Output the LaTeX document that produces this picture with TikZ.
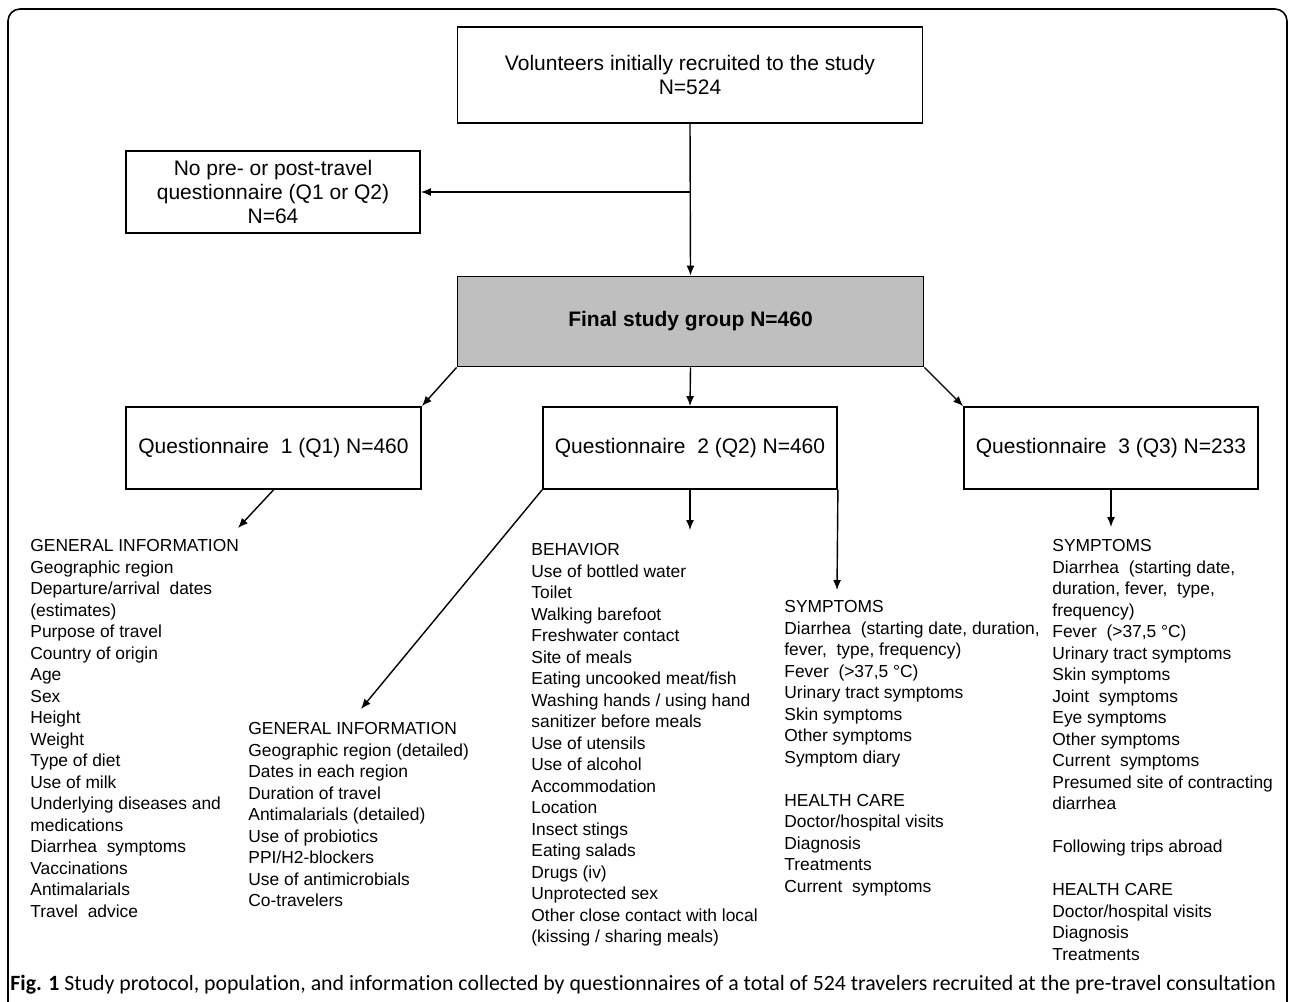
\documentclass[tikz,border=0pt]{standalone}
\usepackage{fontspec}
\setmainfont{Liberation Sans}
\newfontfamily\capfont[Ligatures=NoCommon]{Carlito}
\usetikzlibrary{arrows.meta}
\definecolor{finalgray}{RGB}{191,191,191}
\newcommand{\boxfont}{\fontsize{10.5}{12}\selectfont}
\newcommand{\listfont}{\fontsize{8.7}{10.75}\selectfont}
\tikzset{
  box/.style={draw, line width=0.9pt, inner sep=0pt, align=center, font=\boxfont,
    minimum width=147pt, minimum height=41pt},
  arr/.style={-{Latex[length=5pt,width=4pt]}, line width=0.7pt},
  itemlist/.style={anchor=north west, align=left, inner sep=0pt, font=\listfont},
}
\begin{document}
\begin{tikzpicture}[x=0.5pt,y=-0.5pt]
  \useasboundingbox (0,0) rectangle (1290,1001);
  % outer frame, open at the bottom
  \draw[line width=0.8pt, rounded corners=6pt] (8,1010) -- (8,9) -- (1287,9) -- (1287,1010);
  % boxes
  \node[box, minimum width=232.5pt, minimum height=48pt] (vol) at (690,75)
    {Volunteers initially recruited to the study\\N=524};
  \node[box] (nopre) at (273,192) {No pre- or post-travel\\questionnaire (Q1 or Q2)\\N=64};
  \node[box, fill=finalgray, minimum width=233pt, minimum height=45pt, font=\boxfont\bfseries]
    (final) at (690.5,321.5) {Final study group N=460};
  \node[box, minimum width=147.5pt] (q1) at (273.5,448) {Questionnaire\ \ 1 (Q1) N=460};
  \node[box] (q2) at (690,448) {Questionnaire\ \ 2 (Q2) N=460};
  \node[box] (q3) at (1111,448) {Questionnaire\ \ 3 (Q3) N=233};
  % lists
  \node[itemlist] (gen1) at (30,539) {GENERAL INFORMATION\\Geographic region\\Departure/arrival\ \ dates\\(estimates)\\Purpose of travel\\Country of origin\\Age\\Sex\\Height\\Weight\\Type of diet\\Use of milk\\Underlying diseases and\\medications\\Diarrhea\ \ symptoms\\Vaccinations\\Antimalarials\\Travel\ \ advice};
  \node[itemlist] (gen2) at (248,722) {GENERAL INFORMATION\\Geographic region (detailed)\\Dates in each region\\Duration of travel\\Antimalarials (detailed)\\Use of probiotics\\PPI/H2-blockers\\Use of antimicrobials\\Co-travelers};
  \node[itemlist] (behav) at (531,543) {BEHAVIOR\\Use of bottled water\\Toilet\\Walking barefoot\\Freshwater contact\\Site of meals\\Eating uncooked meat/fish\\Washing hands / using hand\\sanitizer before meals\\Use of utensils\\Use of alcohol\\Accommodation\\Location\\Insect stings\\Eating salads\\Drugs (iv)\\Unprotected sex\\Other close contact with local\\(kissing / sharing meals)};
  \node[itemlist] (symp2) at (784,600) {SYMPTOMS\\Diarrhea\ \ (starting date, duration,\\fever,\ \ type, frequency)\\Fever\ \ (>37,5 °C)\\Urinary tract symptoms\\Skin symptoms\\Other symptoms\\Symptom diary\\[10.75pt]HEALTH CARE\\Doctor/hospital visits\\Diagnosis\\Treatments\\Current\ \ symptoms};
  \node[itemlist] (symp3) at (1052,539) {SYMPTOMS\\Diarrhea\ \ (starting date,\\duration, fever,\ \ type,\\frequency)\\Fever\ \ (>37,5 °C)\\Urinary tract symptoms\\Skin symptoms\\Joint\ \ symptoms\\Eye symptoms\\Other symptoms\\Current\ \ symptoms\\Presumed site of contracting\\diarrhea\\[10.75pt]Following trips abroad\\[10.75pt]HEALTH CARE\\Doctor/hospital visits\\Diagnosis\\Treatments};
  % free arrow ends
  \coordinate (g1tip) at (238,528);
  \coordinate (g2tip) at (361,709);
  \coordinate (btip) at (690,530);
  \coordinate (s2tip) at (837,590);
  \coordinate (s3tip) at (1111,527);
  % connectors
  \draw[arr] (vol.south) -- (final.north);
  \draw[arr] (vol.south |- nopre.east) -- (nopre.east);
  \draw[arr] (final.south west) -- (q1.north east);
  \draw[arr] (final.south) -- (q2.north);
  \draw[arr] (final.south east) -- (q3.north west);
  \draw[arr] (q1.south) -- (g1tip);
  \draw[arr] (q2.south west) -- (g2tip);
  \draw[arr] (q2.south) -- (btip);
  \draw[arr] (q2.south east) -- (s2tip);
  \draw[arr] (q3.south) -- (s3tip);
  % caption
  \node[anchor=west, inner sep=0pt, font=\capfont\fontsize{10.9}{12}\selectfont] (cap) at (10,985)
    {\textbf{Fig. 1} Study protocol, population, and information collected by questionnaires of a total of 524 travelers recruited at the pre-travel consultation};
\end{tikzpicture}
\end{document}
